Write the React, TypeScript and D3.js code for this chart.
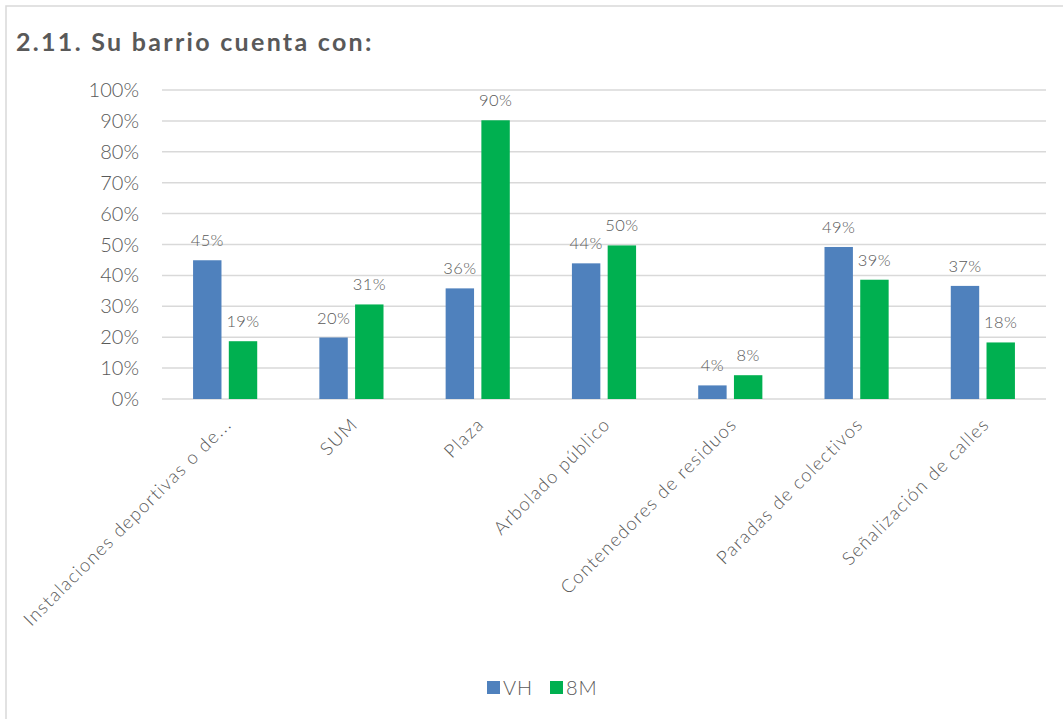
import React from "react";
import * as d3 from "d3";

const categories = [
  "Instalaciones deportivas o de...",
  "SUM",
  "Plaza",
  "Arbolado público",
  "Contenedores de residuos",
  "Paradas de colectivos",
  "Señalización de calles",
];
const seriesNames = ["VH", "8M"];
const vhValues = [44.9, 19.9, 35.8, 43.9, 4.4, 49.2, 36.6];
const m8Values = [18.7, 30.6, 90.2, 49.7, 7.7, 38.6, 18.3];
const yTicks = [0, 10, 20, 30, 40, 50, 60, 70, 80, 90, 100];
const colors = ["#4F81BD", "#00B050"];

const W = 1063;
const H = 719;
const FONT = "Lato, 'Open Sans', sans-serif";
const TEXT = "#595959";

export default function App() {
  const left = 162;
  const right = 1046;
  const top = 90;
  const bottom = 399;

  const x = d3.scaleBand<string>().domain(categories).range([left, right]).paddingInner(0).paddingOuter(0);
  const y = d3.scaleLinear().domain([0, 100]).range([bottom, top]);
  const bw = x.bandwidth();
  const barW = bw * 0.225;
  const gap = bw * 0.058;
  const inner = d3
    .scaleBand<string>()
    .domain(seriesNames)
    .range([bw / 2 - barW - gap / 2, bw / 2 + barW + gap / 2])
    .paddingInner(gap / (barW + gap));
  const series = [vhValues, m8Values];

  return (
    <svg width={W} height={H} style={{ display: "block", position: "absolute", left: 0, top: 0 }} fontFamily={FONT}>
      <rect x={0} y={0} width={W} height={H} fill="#fff" />
      <rect x={6} y={6} width={W + 20} height={H + 20} fill="#fff" stroke="#D9D9D9" strokeWidth={1.5} />
      <text x={16} y={51} fontSize={25} fontWeight="bold" fill={TEXT} letterSpacing={2.3}>
        2.11. Su barrio cuenta con:
      </text>
      {yTicks.map((t) => (
        <g key={t}>
          <line x1={left} x2={right} y1={y(t)} y2={y(t)} stroke="#D9D9D9" strokeWidth={1.5} />
          <text x={139} y={y(t)} dy="0.35em" textAnchor="end" fontSize={20} fill={TEXT} fontWeight={300}>
            {t}%
          </text>
        </g>
      ))}
      {series.map((vals, si) =>
        vals.map((v, i) => {
          const cx = (x(categories[i]) as number) + (inner(seriesNames[si]) as number);
          const w = inner.bandwidth();
          return (
            <g key={si + "-" + i}>
              <rect x={cx} y={y(v)} width={w} height={y(0) - y(v)} fill={colors[si]} />
              <text x={cx + w / 2} y={y(v) - 14} textAnchor="middle" fontSize={16.5} fill={TEXT} fontWeight={300} letterSpacing={0.4}>
                {Math.round(v)}%
              </text>
            </g>
          );
        })
      )}
      {categories.map((c) => {
        const cx = (x(c) as number) + bw / 2 + 3;
        const cy = 421;
        return (
          <text key={c} transform={`translate(${cx},${cy}) rotate(-45)`} textAnchor="end" dy="0.35em" fontSize={18.5} fill={TEXT} fontWeight={300} letterSpacing={1.3}>
            {c}
          </text>
        );
      })}
      {seriesNames.map((s, i) => {
        const lx = [487, 550][i];
        return (
          <g key={s}>
            <rect x={lx} y={681} width={13} height={13} fill={colors[i]} />
            <text x={lx + 16} y={687.5} dy="0.35em" fontSize={20} fill={TEXT} fontWeight={300} letterSpacing={1}>
              {s}
            </text>
          </g>
        );
      })}
    </svg>
  );
}
